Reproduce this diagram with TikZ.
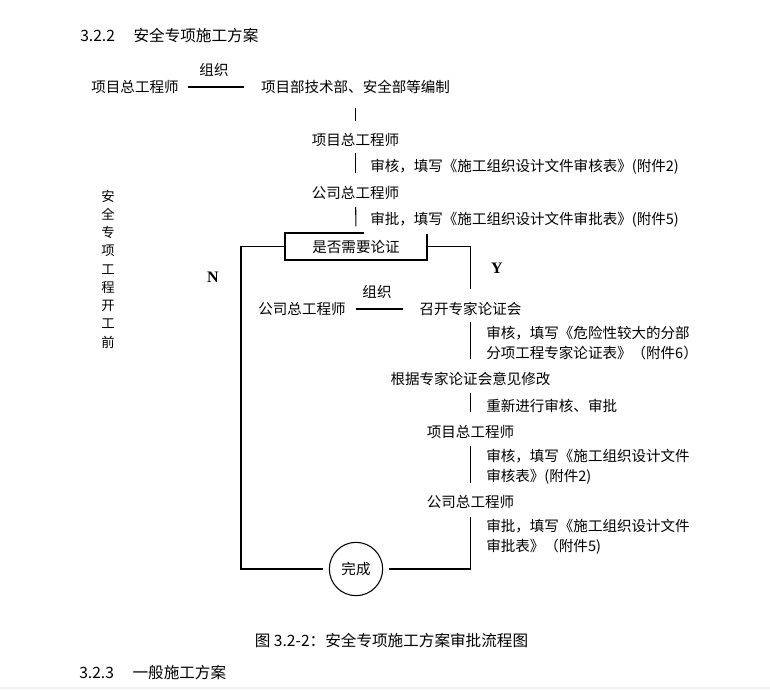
\documentclass[tikz,border=0pt]{standalone}
\usepackage{fontspec}
\setmainfont{Liberation Serif}
\newfontfamily\cjk{Noto Sans CJK SC}
\usetikzlibrary{positioning}

\begin{document}
\begin{tikzpicture}[x=0.75pt,y=-0.75pt,
    every node/.style={inner sep=0pt,font=\cjk\fontsize{10.9}{15}\selectfont},
    txt/.style={anchor=west,align=left},
    head/.style={font=\cjk\fontsize{11.7}{14}\selectfont},
    yn/.style={font=\bfseries\fontsize{12}{14}\selectfont},
    ln/.style={line width=0.8pt}]
    \useasboundingbox (0,0) rectangle (770,689);
    \fill[gray!12] (0,687) rectangle (770,689);
    \node[head,anchor=west] (sec) at (80,35) {3.2.2\hspace{14pt}安全专项施工方案};
    \node (pe1) at (135,87) {项目总工程师};
    \node (org1) at (214,70) {组织};
    \node (tech) at (355.5,87) {项目部技术部、安全部等编制};
    \node (pe2) at (355.5,140) {项目总工程师};
    \node[txt] (rev1) at (370,167) {审核，填写《施工组织设计文件审核表》(附件2)};
    \node (ce1) at (355.5,193) {公司总工程师};
    \node[draw,ln,minimum width=106.5pt,minimum height=20.25pt] (check) at (356,246.5) {是否需要论证};
    \node[txt,fill=white,inner xsep=4.5pt,inner ysep=5pt] (app1) at (364,220) {审批，填写《施工组织设计文件审批表》(附件5)};
    \node[yn] (yes) at (497,268) {Y};
    \node[yn] (no) at (213,277) {N};
    \node[font=\cjk\fontsize{10}{13.7}\selectfont,align=center] (side) at (108,269) {安\\全\\专\\项\\工\\程\\开\\工\\前};
    \node (ce2) at (302,309) {公司总工程师};
    \node (org2) at (377,292) {组织};
    \node (meet) at (470.5,309) {召开专家论证会};
    \node[txt] (rev2) at (486,343) {审核，填写《危险性较大的分部\\分项工程专家论证表》（附件6）};
    \node (fix) at (470.5,379) {根据专家论证会意见修改};
    \node[txt] (redo) at (486,406) {重新进行审核、审批};
    \node (pe3) at (470.5,432) {项目总工程师};
    \node[txt] (rev3) at (486,467) {审核，填写《施工组织设计文件\\审核表》(附件2)};
    \node (ce3) at (470.5,502) {公司总工程师};
    \node[txt] (app3) at (486,537) {审批，填写《施工组织设计文件\\审批表》（附件5)};
    \node[draw,ln,circle,minimum size=40pt] (done) at (356,569) {完成};
    \coordinate (ncorner) at (241,569);
    \node[head] (cap) at (391.5,640) {图 3.2-2：安全专项施工方案审批流程图};
    \node[head,anchor=west] (sub) at (79,673) {3.2.3\hspace{14pt}一般施工方案};
    \draw[ln,shorten <=39.75pt,shorten >=84pt] (pe1.center) -- (tech.center);
    \draw[ln,shorten <=15.75pt,shorten >=14.25pt] (tech.center) -- (pe2.center);
    \draw[ln,shorten <=9.75pt,shorten >=15pt] (pe2.center) -- (ce1.center);
    \draw[ln,shorten <=10.5pt,shorten >=4.5pt] (ce1.center) -- (check.north);
    \draw[ln,shorten >=15pt] (check.east) -| (meet.center);
    \draw[ln,shorten >=4.5pt] (check.west) -| (ncorner) -- (done.west);
    \draw[ln,shorten <=40.5pt,shorten >=51pt] (ce2.center) -- (meet.center);
    \draw[ln,shorten <=9.75pt,shorten >=15pt] (meet.center) -- (fix.center);
    \draw[ln,shorten <=10.5pt,shorten >=15pt] (fix.center) -- (pe3.center);
    \draw[ln,shorten <=10.5pt,shorten >=14.25pt] (pe3.center) -- (ce3.center);
    \draw[ln,shorten <=11.25pt,shorten >=4.5pt] (ce3.center) |- (done.east);
\end{tikzpicture}
\end{document}
